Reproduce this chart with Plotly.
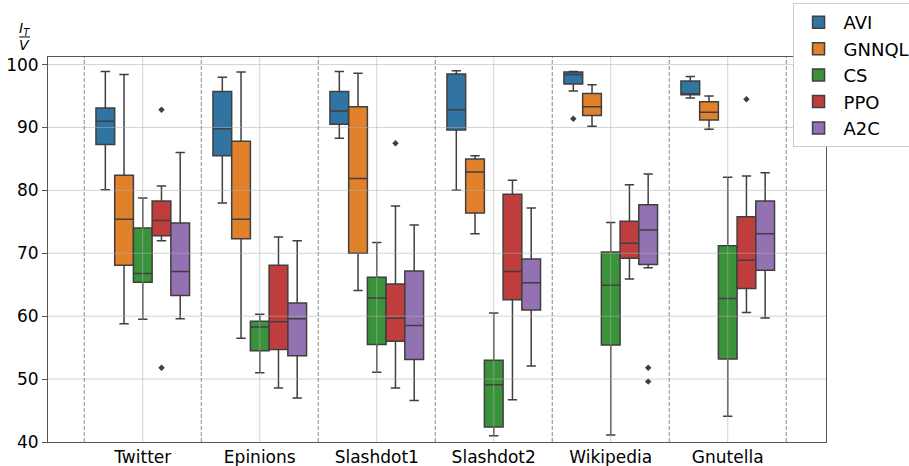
import plotly.graph_objects as go

categories = ["Twitter", "Epinions", "Slashdot1", "Slashdot2", "Wikipedia", "Gnutella"]
methods = ["AVI", "GNNQL", "CS", "PPO", "A2C"]
colors = ["#3274a1", "#e1812c", "#3a923a", "#c03d3e", "#9372b2"]

avi_lower = [80.1, 78.0, 88.3, 80.0, 95.8, 94.7]
avi_q1 = [87.3, 85.5, 90.5, 89.6, 96.9, 95.2]
avi_med = [91.0, 89.8, 92.6, 92.8, 98.4, 95.3]
avi_q3 = [93.1, 95.7, 95.7, 98.5, 98.8, 97.4]
avi_upper = [98.9, 98.0, 98.9, 99.0, 98.9, 98.1]

gnnql_lower = [58.8, 56.5, 64.1, 73.1, 90.2, 89.7]
gnnql_q1 = [68.1, 72.3, 70.0, 76.4, 91.9, 91.2]
gnnql_med = [75.4, 75.4, 81.9, 82.9, 93.3, 92.4]
gnnql_q3 = [82.4, 87.8, 93.3, 85.0, 95.4, 94.1]
gnnql_upper = [98.4, 98.8, 98.6, 85.5, 96.8, 95.0]

cs_lower = [59.5, 51.0, 51.1, 41.0, 41.1, 44.1]
cs_q1 = [65.4, 54.5, 55.5, 42.4, 55.4, 53.2]
cs_med = [66.8, 58.3, 62.9, 49.1, 64.9, 62.8]
cs_q3 = [74.0, 59.2, 66.2, 53.0, 70.2, 71.2]
cs_upper = [78.8, 60.3, 71.7, 60.5, 74.9, 82.1]

ppo_lower = [72.0, 48.6, 48.6, 46.7, 65.9, 60.6]
ppo_q1 = [72.8, 54.7, 56.0, 62.6, 69.2, 64.4]
ppo_med = [75.2, 59.1, 59.7, 67.1, 71.6, 68.9]
ppo_q3 = [78.3, 68.1, 65.1, 79.4, 75.1, 75.8]
ppo_upper = [80.7, 72.6, 77.5, 81.6, 80.9, 82.3]

a2c_lower = [59.6, 47.0, 46.6, 52.1, 67.7, 59.7]
a2c_q1 = [63.3, 53.7, 53.1, 61.0, 68.2, 67.3]
a2c_med = [67.1, 59.6, 58.5, 65.3, 73.7, 73.1]
a2c_q3 = [74.8, 62.1, 67.2, 69.1, 77.7, 78.3]
a2c_upper = [86.0, 72.0, 74.5, 77.2, 82.6, 82.8]

outlier_method = ["AVI", "PPO", "PPO", "PPO", "PPO", "A2C", "A2C"]
outlier_category = ["Wikipedia", "Twitter", "Twitter", "Slashdot1", "Gnutella", "Wikipedia", "Wikipedia"]
outlier_value = [91.4, 92.8, 51.8, 87.5, 94.5, 51.8, 49.6]

y_ticks = [40, 50, 60, 70, 80, 90, 100]

stats = {
    "AVI": (avi_lower, avi_q1, avi_med, avi_q3, avi_upper),
    "GNNQL": (gnnql_lower, gnnql_q1, gnnql_med, gnnql_q3, gnnql_upper),
    "CS": (cs_lower, cs_q1, cs_med, cs_q3, cs_upper),
    "PPO": (ppo_lower, ppo_q1, ppo_med, ppo_q3, ppo_upper),
    "A2C": (a2c_lower, a2c_q1, a2c_med, a2c_q3, a2c_upper),
}

BOXW = 0.16
LINE = "#3f3f3f"
FONT = "DejaVu Sans"

def pos(cat_idx, m_idx):
    return cat_idx + (m_idx - (len(methods) - 1) / 2) * BOXW

fig = go.Figure()
for mi, m in enumerate(methods):
    lo, q1, md, q3, up = stats[m]
    fig.add_trace(go.Box(
        name=m,
        x=[pos(ci, mi) for ci in range(len(categories))],
        lowerfence=lo, q1=q1, median=md, q3=q3, upperfence=up,
        width=BOXW,
        whiskerwidth=0.5,
        fillcolor=colors[mi],
        line=dict(color=LINE, width=1.5),
        boxpoints=False,
        hoverinfo="skip",
    ))

for mi, m in enumerate(methods):
    xs, ys = [], []
    for om, oc, ov in zip(outlier_method, outlier_category, outlier_value):
        if om == m:
            xs.append(pos(categories.index(oc), mi))
            ys.append(ov)
    if xs:
        fig.add_trace(go.Scatter(
            x=xs, y=ys, mode="markers", showlegend=False,
            marker=dict(symbol="diamond", size=5, color=LINE),
            hoverinfo="skip",
        ))

shapes = []
for v in y_ticks[1:]:
    shapes.append(dict(type="line", xref="paper", x0=0, x1=1, yref="y", y0=v, y1=v,
                       line=dict(color="rgba(176,176,176,0.55)", width=1), layer="above"))
for ci in range(len(categories)):
    shapes.append(dict(type="line", xref="x", x0=ci, x1=ci, yref="paper", y0=0, y1=1,
                       line=dict(color="rgba(176,176,176,0.55)", width=1), layer="above"))
for ci in range(len(categories) + 1):
    shapes.append(dict(type="line", xref="x", x0=ci - 0.5, x1=ci - 0.5, yref="paper", y0=0, y1=1,
                       line=dict(color="#8a8a8a", width=1, dash="4px,2px"), layer="above"))
# fraction bar of the y label
shapes.append(dict(type="line", xref="paper", yref="paper", x0=-0.037, x1=-0.023,
                   y0=1.052, y1=1.052, line=dict(color="black", width=1)))

fig.update_layout(
    width=909, height=466,
    margin=dict(l=48, r=83, t=57, b=24, autoexpand=False),
    paper_bgcolor="white", plot_bgcolor="white",
    boxmode="overlay",
    font=dict(family=FONT, size=17, color="black"),
    shapes=shapes,
    showlegend=True,
    legend=dict(x=0.957, y=1.14, xanchor="left", yanchor="top",
                bgcolor="white", bordercolor="#cccccc", borderwidth=1,
                itemwidth=40,
                font=dict(family=FONT, size=18), tracegroupgap=2),
    xaxis=dict(range=[-0.81, 5.84], tickmode="array",
               tickvals=list(range(len(categories))), ticktext=categories,
               showgrid=False, zeroline=False, showline=True, mirror=True,
               linecolor="#555555", linewidth=1, ticks="",
               automargin=False),
    yaxis=dict(range=[40, 101.2], tickmode="array", tickvals=y_ticks,
               showgrid=False, zeroline=False, showline=True, mirror=True,
               linecolor="#555555", linewidth=1, ticks="outside", ticklen=5,
               tickcolor="#555555", automargin=False),
    annotations=[
        dict(text="<i>I</i><sub><i>T</i></sub>", xref="paper", yref="paper",
             x=-0.030, y=1.074, showarrow=False, font=dict(family=FONT, size=14),
             xanchor="center", yanchor="middle"),
        dict(text="<i>V</i>", xref="paper", yref="paper",
             x=-0.030, y=1.030, showarrow=False, font=dict(family=FONT, size=14),
             xanchor="center", yanchor="middle"),
    ],
)

fig.write_html("out.html", config={"displayModeBar": False},
               post_script="document.body.style.margin='0';document.body.style.overflow='hidden';")
